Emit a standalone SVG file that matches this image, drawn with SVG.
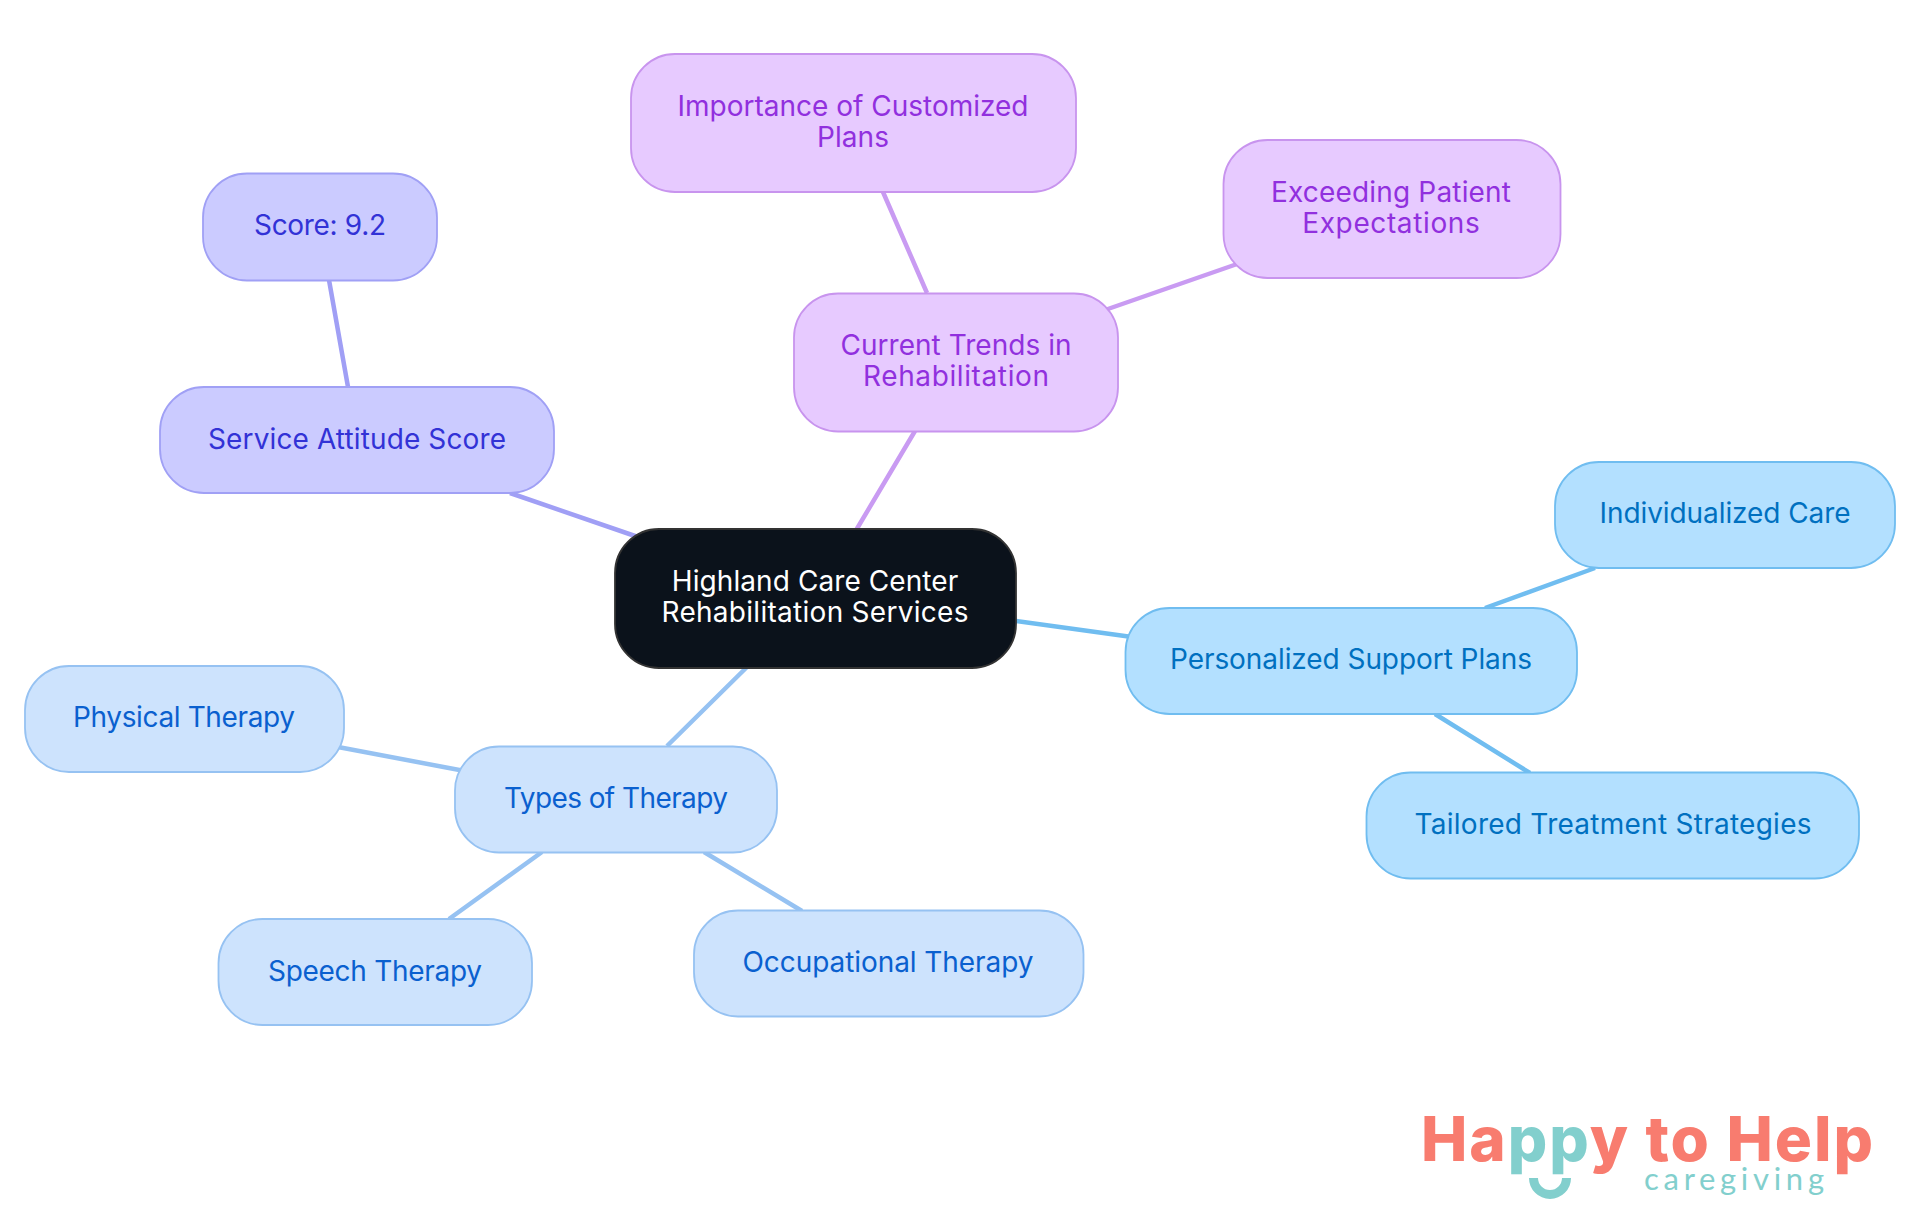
<svg xmlns="http://www.w3.org/2000/svg" width="1920" height="1215" viewBox="0 0 1920 1215">
<style>
text{font-family:"Inter","Liberation Sans",sans-serif;font-size:28px;text-anchor:middle;font-weight:400}
.c{fill:none;stroke-width:4.5}
.b{stroke-width:1.8}
.p{fill:#e7caff;stroke:#c894ee}.pt{fill:#9130de}
.u{fill:#b3e0ff;stroke:#70bdf0}.ut{fill:#0070c0}
.l{fill:#cde3fd;stroke:#96c2f2}.lt{fill:#0a60cf}
.i{fill:#cbcbff;stroke:#a0a0f5}.it{fill:#3232d6}
</style>
<rect width="1920" height="1215" fill="#fff"/>
<g id="connectors">
<path class="c" stroke="#c99bf2" d="M855 532L915 431M883 192L927 293M1105 310L1240 263"/>
<path class="c" stroke="#a09ff5" d="M638 537L510 493M329 280L348 387"/>
<path class="c" stroke="#70bdf0" d="M1016 621L1132 637M1485 608L1595 568M1435 714L1530 773"/>
<path class="c" stroke="#96c2f2" d="M747 667L667 746M338 747L470 772M542 852L449 919M704 852L802 911"/>
</g>
<g id="root"><rect x="615" y="529" width="401" height="139" rx="44" fill="#0b121b" stroke="#333" stroke-width="1.8"/><text x="815" y="591" fill="#fff" textLength="286.5">Highland Care Center</text><text x="815" y="622" fill="#fff" textLength="307">Rehabilitation Services</text></g>
<g id="n-importance"><rect class="p b" x="631" y="54" width="445" height="138" rx="44"/><text class="pt" x="853" y="116" textLength="351">Importance of Customized</text><text class="pt" x="853" y="147" textLength="72">Plans</text></g>
<g id="n-trends"><rect class="p b" x="794" y="293.5" width="324" height="138" rx="44"/><text class="pt" x="956" y="355" textLength="231">Current Trends in</text><text class="pt" x="956" y="386" textLength="186">Rehabilitation</text></g>
<g id="n-exceeding"><rect class="p b" x="1223.5" y="140" width="337" height="138" rx="44"/><text class="pt" x="1391" y="202" textLength="240">Exceeding Patient</text><text class="pt" x="1391" y="233" textLength="177.5">Expectations</text></g>
<g id="n-score"><rect class="i b" x="203" y="173.5" width="234" height="107" rx="44"/><text class="it" x="320" y="235" textLength="132">Score: 9.2</text></g>
<g id="n-service"><rect class="i b" x="160" y="387" width="394" height="106" rx="44"/><text class="it" x="357" y="449" textLength="298">Service Attitude Score</text></g>
<g id="n-support"><rect class="u b" x="1125.5" y="608" width="451.5" height="106" rx="44"/><text class="ut" x="1351" y="668.500" textLength="362">Personalized Support Plans</text></g>
<g id="n-individual"><rect class="u b" x="1555" y="462" width="340" height="106" rx="44"/><text class="ut" x="1725" y="523" textLength="251">Individualized Care</text></g>
<g id="n-tailored"><rect class="u b" x="1366.5" y="772.5" width="492.5" height="106" rx="44"/><text class="ut" x="1613" y="833.500" textLength="397">Tailored Treatment Strategies</text></g>
<g id="n-types"><rect class="l b" x="455" y="746.5" width="322" height="106" rx="44"/><text class="lt" x="616" y="808" textLength="224">Types of Therapy</text></g>
<g id="n-physical"><rect class="l b" x="25" y="666" width="319" height="106" rx="44"/><text class="lt" x="184" y="727" textLength="222">Physical Therapy</text></g>
<g id="n-speech"><rect class="l b" x="218.5" y="919" width="313.5" height="106" rx="44"/><text class="lt" x="375" y="981" textLength="214">Speech Therapy</text></g>
<g id="n-occupational"><rect class="l b" x="694" y="910.5" width="389.5" height="106" rx="44"/><text class="lt" x="888" y="971.500" textLength="291">Occupational Therapy</text></g>
<g id="logo">
<text x="1421" y="1161" textLength="452" style="text-anchor:start;font-weight:800;font-size:62px" fill="#f87c6f">Ha<tspan fill="#82cfcd">pp</tspan>y to Help</text>
<text x="1644" y="1190" textLength="180" style="text-anchor:start;font-family:'Lato',sans-serif;font-size:31px;font-weight:400" fill="#82cfcd">caregiving</text>
<path d="M1533.500 1178a16.500 16.500 0 0 0 33 0" fill="none" stroke="#82cfcd" stroke-width="9"/>
</g>
</svg>
